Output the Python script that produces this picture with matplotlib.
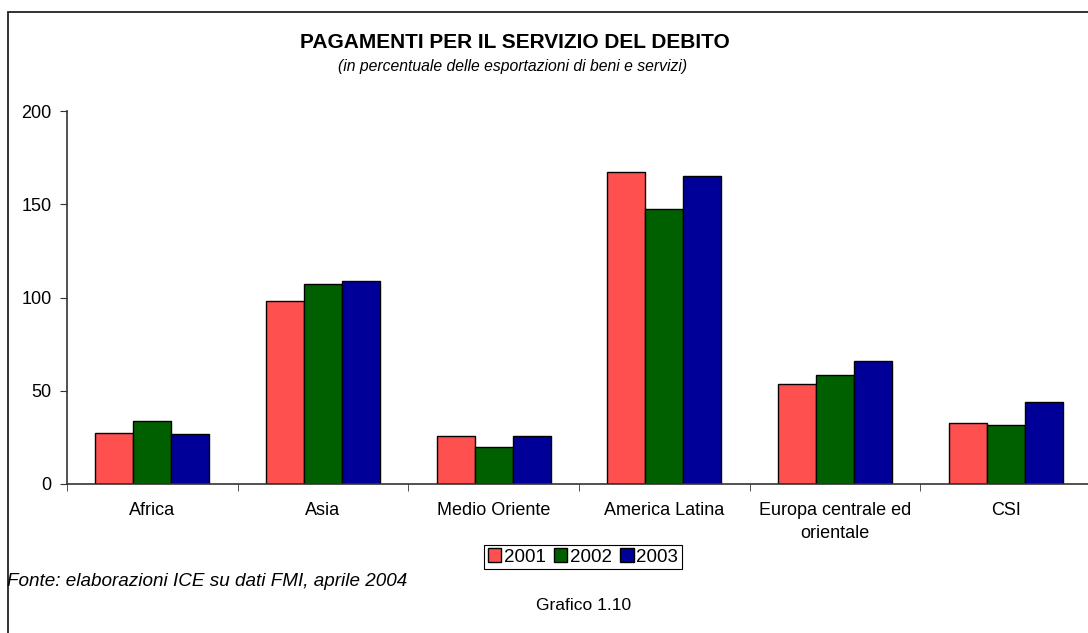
import numpy as np
import matplotlib
matplotlib.use("Agg")
from matplotlib import pyplot as plt
from matplotlib.patches import Rectangle

plt.rcParams['font.family'] = ['Liberation Sans', 'DejaVu Sans']

categories = ['Africa', 'Asia', 'Medio Oriente', 'America Latina',
              'Europa centrale ed\norientale', 'CSI']
years = ['2001', '2002', '2003']
v2001 = [27.2, 98.2, 25.9, 167.2, 53.4, 32.6]
v2002 = [33.8, 107.0, 20.0, 147.2, 58.6, 31.8]
v2003 = [26.6, 109.1, 25.7, 164.9, 65.8, 43.9]
colors = ['#FF5050', '#006000', '#000099']

fig = plt.figure(figsize=(10.88, 6.33), dpi=100)
ax = fig.add_axes([67 / 1088, 1 - 484 / 633, 1024 / 1088, 373 / 633])

x = np.arange(len(categories))
w = 0.223
for i, (vals, yr) in enumerate(zip([v2001, v2002, v2003], years)):
    ax.bar(x + (i - 1) * w, vals, w, color=colors[i], edgecolor='black',
           linewidth=1.0, label=yr)

ax.set_xlim(-0.5, len(categories) - 0.5)
ax.set_ylim(0, 200)
ax.set_yticks([0, 50, 100, 150, 200])
ax.set_xticks(x)
ax.set_xticklabels(categories, fontsize=13, linespacing=1.45)
ax.set_xticks(np.arange(-0.5, len(categories), 1.0), minor=True)
ax.tick_params(axis='x', which='major', length=0, pad=13)
ax.tick_params(axis='x', which='minor', length=5, direction='out', color='#333333')
ax.tick_params(axis='y', length=5, direction='out', color='#333333', labelsize=13, pad=6)
for s in ['top', 'right']:
    ax.spines[s].set_visible(False)
for s in ['left', 'bottom']:
    ax.spines[s].set_color('#333333')
    ax.spines[s].set_linewidth(1.2)

fig.text(515 / 1088, 1 - 43 / 633, 'PAGAMENTI PER IL SERVIZIO DEL DEBITO',
         ha='center', va='center', fontsize=15, fontweight='bold')
fig.text(513 / 1088, 1 - 67 / 633, '(in percentuale delle esportazioni di beni e servizi)',
         ha='center', va='center', fontsize=11.3, style='italic')

leg = fig.legend(loc='center', bbox_to_anchor=(583 / 1088, 1 - 557 / 633), ncol=3,
                 fontsize=13.5, handlelength=0.7, handleheight=0.7, handletextpad=0.15,
                 columnspacing=0.45, borderpad=0.2, fancybox=False, edgecolor='black',
                 framealpha=1)
leg.get_frame().set_linewidth(0.8)

fig.text(7 / 1088, 1 - 582 / 633, 'Fonte: elaborazioni ICE su dati FMI, aprile 2004',
         ha='left', va='center', fontsize=13.6, style='italic')
fig.text(584 / 1088, 1 - 605 / 633, 'Grafico 1.10', ha='center', va='center', fontsize=12.5)

frame = Rectangle((8 / 1088, -0.05), 1.1, 1 - 12 / 633 + 0.05, transform=fig.transFigure,
                  fill=False, edgecolor='#222222', linewidth=1.3, clip_on=False)
fig.patches.append(frame)

fig.savefig('out.png', dpi=100)
